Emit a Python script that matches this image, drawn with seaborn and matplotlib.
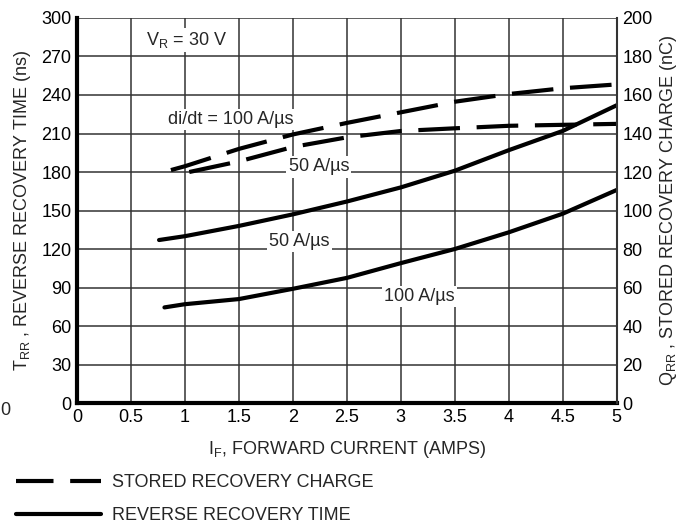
import matplotlib
matplotlib.use("Agg")
import matplotlib.pyplot as plt
import seaborn as sns
import pandas as pd
from matplotlib.lines import Line2D

# --- data ---
# reverse recovery time (ns), left axis
if_trr_50 = [0.76, 1.0, 1.5, 2.0, 2.5, 3.0, 3.5, 4.0, 4.5, 5.0]
trr_50 = [127, 130, 138, 147, 157, 168, 181, 197, 212, 232]
if_trr_100 = [0.81, 1.0, 1.5, 2.0, 2.5, 3.0, 3.5, 4.0, 4.5, 5.0]
trr_100 = [74.5, 77, 81, 89, 97.5, 109, 120, 133, 147.5, 166]
# stored recovery charge (nC), right axis
if_qrr_100 = [0.87, 1.0, 1.5, 2.0, 2.5, 3.0, 3.5, 4.0, 4.5, 5.0]
qrr_100 = [121, 123, 132, 139.5, 145.5, 151, 156.5, 160.5, 163.5, 165.5]
if_qrr_50 = [1.04, 1.5, 2.0, 2.5, 3.0, 3.5, 4.0, 4.5, 5.0]
qrr_50 = [120, 125.5, 133, 138, 141.3, 142.7, 144, 144.5, 145]

x_ticks = [0, 0.5, 1, 1.5, 2, 2.5, 3, 3.5, 4, 4.5, 5]
x_tick_labels = ["0", "0.5", "1", "1.5", "2", "2.5", "3", "3.5", "4", "4.5", "5"]
trr_ticks = list(range(0, 301, 30))
qrr_ticks = list(range(0, 201, 20))

sns.set_theme(style="white")
plt.rcParams["font.family"] = ["Liberation Sans", "DejaVu Sans"]
plt.rcParams["mathtext.fontset"] = "custom"
plt.rcParams["mathtext.rm"] = "Liberation Sans"
plt.rcParams["mathtext.it"] = "Liberation Sans"

fig = plt.figure(figsize=(6.84, 5.23), dpi=100)
ax = fig.add_axes([0.1126, 0.2294, 0.789, 0.7362])
ax2 = ax.twinx()

trr_df = pd.DataFrame({"If": if_trr_50 + if_trr_100,
                       "trr": trr_50 + trr_100,
                       "rate": ["50"] * len(trr_50) + ["100"] * len(trr_100)})
sns.lineplot(data=trr_df, x="If", y="trr", units="rate", estimator=None,
             color="black", lw=3, ax=ax, sort=False, legend=False)

qrr_df = pd.DataFrame({"If": if_qrr_100 + if_qrr_50,
                       "qrr": qrr_100 + qrr_50,
                       "rate": ["100"] * len(qrr_100) + ["50"] * len(qrr_50)})
sns.lineplot(data=qrr_df, x="If", y="qrr", units="rate", estimator=None,
             color="black", lw=3, ax=ax2, sort=False, legend=False)
for ln in ax2.get_lines():
    ln.set_dashes([10, 4])

ax.set_xlim(0, 5)
ax.set_ylim(0, 300)
ax2.set_ylim(0, 200)
ax.set_xticks(x_ticks)
ax.set_xticklabels(x_tick_labels)
ax.set_yticks(trr_ticks)
ax2.set_yticks(qrr_ticks)
ax.grid(True, color="#333333", lw=1.1)
ax.set_axisbelow(True)
ax2.grid(False)

for a in (ax, ax2):
    a.tick_params(length=0, labelsize=13, pad=4, colors="black")
    for s in a.spines.values():
        s.set_visible(False)
ax.spines["left"].set_visible(True)
ax.spines["left"].set_linewidth(3)
ax.spines["left"].set_color("black")
ax.spines["bottom"].set_visible(True)
ax.spines["bottom"].set_linewidth(3)
ax.spines["bottom"].set_color("black")
ax2.spines["right"].set_visible(True)
ax2.spines["right"].set_linewidth(1.5)
ax2.spines["right"].set_color("#333333")

ax.set_xlabel("I$_{\\rm F}$, FORWARD CURRENT (AMPS)", fontsize=13, labelpad=10)
ax.set_ylabel("T$_{\\rm RR}$ , REVERSE RECOVERY TIME (ns)", fontsize=13, labelpad=6)
ax2.set_ylabel("Q$_{\\rm RR}$ , STORED RECOVERY CHARGE (nC)", fontsize=13, labelpad=4)

box = dict(facecolor="white", edgecolor="none", pad=1.5)
ax.text(1.02, 283, "V$_{\\rm R}$ = 30 V", fontsize=13, ha="center", va="center", bbox=box)
ax.text(1.42, 221, "di/dt = 100 A/µs", fontsize=13, ha="center", va="center", bbox=box)
ax.text(2.24, 184, "50 A/µs", fontsize=13, ha="center", va="center", bbox=box)
ax.text(2.06, 126, "50 A/µs", fontsize=13, ha="center", va="center", bbox=box)
ax.text(3.17, 83, "100 A/µs", fontsize=13, ha="center", va="center", bbox=box)

fig.text(0.0, 0.216, "0", fontsize=13, ha="left", va="center")

handles = [Line2D([], [], color="black", lw=3, dashes=[9, 4]),
           Line2D([], [], color="black", lw=3)]
fig.legend(handles, ["STORED RECOVERY CHARGE", "REVERSE RECOVERY TIME"],
           loc="upper left", bbox_to_anchor=(0.008, 0.114), frameon=False,
           fontsize=13, handlelength=4.7, handletextpad=0.6, labelspacing=0.88,
           borderaxespad=0.2)

fig.savefig("out.png", dpi=100)
